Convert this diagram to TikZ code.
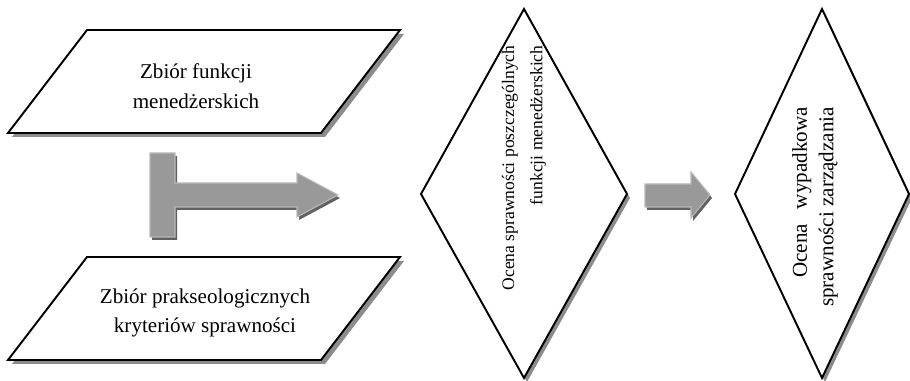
\documentclass[tikz,border=0pt]{standalone}
\usepackage{fontspec}
\setmainfont{Liberation Serif}

\begin{document}
\begin{tikzpicture}[x=0.02cm,y=-0.02cm]
    \tikzstyle{box}=[draw=black,fill=white,line width=1.1pt,line join=miter]
    \tikzstyle{shade}=[fill=black!45,draw=none]
    \tikzstyle{bodyarrow}=[fill=black!40,draw=black!28,line width=0.6pt]
    \tikzstyle{arrowshade}=[fill=black!62,draw=none]
    \tikzstyle{every node}=[font=\fontsize{12}{17}\selectfont]
    \useasboundingbox (0,0) rectangle (910,381);
    % zbiory
    \foreach \dy in {0,227} {
      \fill[shade,shift={(4,4)}] (87,30+\dy) -- (400,30+\dy) -- (321,133+\dy) -- (8,133+\dy) -- cycle;
      \draw[box] (87,30+\dy) -- (400,30+\dy) -- (321,133+\dy) -- (8,133+\dy) -- cycle;
    }
    % oceny
    \fill[shade,shift={(3,4)}] (524,9) -- (627,194) -- (524,378) -- (421,194) -- cycle;
    \draw[box] (524,9) -- (627,194) -- (524,378) -- (421,194) -- cycle;
    \fill[shade,shift={(3,4)}] (822,9) -- (909,194) -- (822,378) -- (735,194) -- cycle;
    \draw[box] (822,9) -- (909,194) -- (822,378) -- (735,194) -- cycle;
    % strzalki
    \fill[arrowshade,shift={(2,3)}] (150,153) -- (175,153) -- (175,183) -- (297,183) -- (297,173)
      -- (338,195) -- (297,217) -- (297,207) -- (175,207) -- (175,237) -- (150,237) -- cycle;
    \filldraw[bodyarrow] (150,153) -- (175,153) -- (175,183) -- (297,183) -- (297,173)
      -- (338,195) -- (297,217) -- (297,207) -- (175,207) -- (175,237) -- (150,237) -- cycle;
    \fill[arrowshade,shift={(2,3)}] (645,184) -- (691,184) -- (691,172) -- (710,195)
      -- (691,218) -- (691,207) -- (645,207) -- cycle;
    \filldraw[bodyarrow] (645,184) -- (691,184) -- (691,172) -- (710,195)
      -- (691,218) -- (691,207) -- (645,207) -- cycle;
    % teksty
    \node[align=center] (funkcje) at (196,86) {Zbiór funkcji\\menedżerskich};
    \node[align=center] (kryteria) at (205,313) {Zbiór prakseologicznych\\kryteriów sprawności};
    \node[rotate=90,align=right,font=\fontsize{10}{16}\selectfont] (ocenaF) at (524,168)
      {Ocena sprawności poszczególnych\\funkcji menedżerskich};
    \node[rotate=90,align=right,font=\fontsize{12}{15}\selectfont] (ocenaW) at (815,207)
      {Ocena\hspace{0.7em}wypadkowa\\sprawności zarządzania};
\end{tikzpicture}
\end{document}
